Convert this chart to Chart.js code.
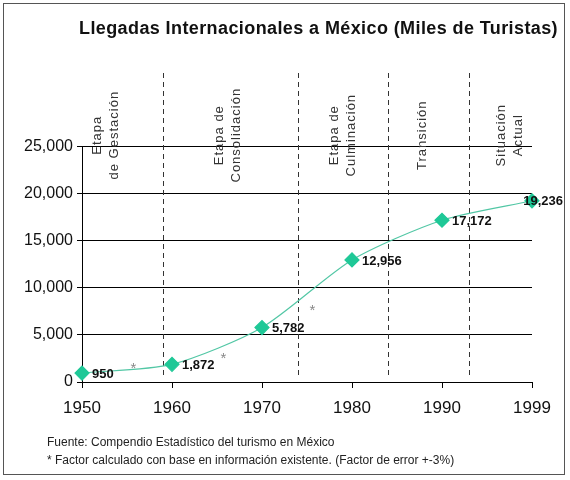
<!DOCTYPE html>
<html>
<head>
<meta charset="utf-8">
<script src="https://cdn.jsdelivr.net/npm/chart.js@4/dist/chart.umd.min.js"></script>
<style>
  html, body { margin: 0; padding: 0; background: #fff; }
  #chart { display: block; }
</style>
</head>
<body>
<canvas id="chart" width="570" height="480"></canvas>
<script>
// Data
const years = ['1950', '1960', '1970', '1980', '1990', '1999'];
const arrivals = [950, 1872, 5782, 12956, 17172, 19236];
const yTicks = [0, 5000, 10000, 15000, 20000, 25000];
const stageNames = [
    ['Etapa', 'de Gestación'],
    ['Etapa de', 'Consolidación'],
    ['Etapa de', 'Culminación'],
    ['Transición'],
    ['Situación', 'Actual']
];
const stageBounds = [0.9, 2.4, 3.4, 4.3];          // category index where a stage ends
const stageCenters = [0.27, 1.62, 2.9, 3.78, 4.76]; // category index of each stage label
const estimateMarks = [[0.57, 1700], [1.57, 2750], [2.56, 7850]];
const titleText = 'Llegadas Internacionales a México (Miles de Turistas)';
const footnotes = [
    'Fuente: Compendio Estadístico del turismo en México',
    '* Factor calculado con base en información existente. (Factor de error +-3%)'
];

const FONT = "'Liberation Sans', Arial, sans-serif";

const decorations = {
    id: 'decorations',
    beforeDraw(chart) {
        const ctx = chart.ctx;
        ctx.save();
        ctx.fillStyle = '#fff';
        ctx.fillRect(0, 0, chart.width, chart.height);
        ctx.restore();
    },
    beforeDatasetsDraw(chart) {
        const ctx = chart.ctx;
        const x = chart.scales.x, y = chart.scales.y;
        const area = chart.chartArea;
        ctx.save();

        // y axis line, only up to the top tick
        ctx.strokeStyle = '#000';
        ctx.lineWidth = 1;
        ctx.beginPath();
        ctx.moveTo(Math.round(area.left) + 0.5, y.getPixelForValue(0));
        ctx.lineTo(Math.round(area.left) + 0.5, y.getPixelForValue(yTicks[yTicks.length - 1]));
        ctx.stroke();

        // stage separators
        ctx.strokeStyle = '#333';
        ctx.setLineDash([5, 4]);
        stageBounds.forEach(b => {
            const px = Math.round(x.getPixelForValue(b)) + 0.5;
            ctx.beginPath();
            ctx.moveTo(px, area.top);
            ctx.lineTo(px, area.bottom - 3);
            ctx.stroke();
        });
        ctx.setLineDash([]);

        // stage labels (vertical)
        ctx.fillStyle = '#333';
        ctx.font = '13px ' + FONT;
        ctx.letterSpacing = '1px';
        ctx.textAlign = 'center';
        ctx.textBaseline = 'middle';
        const cy = y.getPixelForValue(26200);
        stageNames.forEach((lines, i) => {
            const cx = x.getPixelForValue(stageCenters[i]);
            ctx.save();
            ctx.translate(cx, cy);
            ctx.rotate(-Math.PI / 2);
            const lh = 17;
            lines.forEach((t, j) => {
                ctx.fillText(t, 0, (j - (lines.length - 1) / 2) * lh);
            });
            ctx.restore();
        });
        ctx.restore();
    },
    afterDatasetsDraw(chart) {
        const ctx = chart.ctx;
        const x = chart.scales.x, y = chart.scales.y;
        const meta = chart.getDatasetMeta(0);
        ctx.save();

        // value labels
        ctx.font = 'bold 13px ' + FONT;
        ctx.fillStyle = '#111';
        ctx.textAlign = 'left';
        ctx.textBaseline = 'middle';
        arrivals.forEach((v, i) => {
            const pt = meta.data[i];
            const txt = v.toLocaleString('en-US');
            const w = ctx.measureText(txt).width;
            const lx = Math.min(pt.x + 10, chart.width - 7 - w);
            ctx.fillText(txt, lx, pt.y + 1);
        });

        // estimate marks
        ctx.font = '15px ' + FONT;
        ctx.fillStyle = '#888';
        ctx.textAlign = 'center';
        estimateMarks.forEach(([ix, v]) => {
            ctx.fillText('*', x.getPixelForValue(ix), y.getPixelForValue(v) + 3);
        });
        ctx.restore();
    },
    afterDraw(chart) {
        const ctx = chart.ctx;
        ctx.save();
        // title
        ctx.fillStyle = '#111';
        ctx.font = 'bold 18px ' + FONT;
        ctx.letterSpacing = '0.4px';
        ctx.textAlign = 'right';
        ctx.textBaseline = 'middle';
        ctx.fillText(titleText, 558, 29);
        ctx.letterSpacing = '0px';

        // footnotes
        ctx.font = '12px ' + FONT;
        ctx.fillStyle = '#222';
        ctx.textAlign = 'left';
        footnotes.forEach((t, i) => ctx.fillText(t, 47, 443 + i * 18));

        // frame
        ctx.strokeStyle = '#555';
        ctx.lineWidth = 1;
        ctx.strokeRect(3.5, 3.5, 561, 471);
        ctx.restore();
    }
};

new Chart(document.getElementById('chart'), {
    type: 'line',
    data: {
        labels: years,
        datasets: [{
            data: arrivals,
            borderColor: '#52c7a5',
            borderWidth: 1.2,
            tension: 0.25,
            pointStyle: 'rectRot',
            pointRadius: 7,
            pointHoverRadius: 7,
            pointBackgroundColor: '#1fc897',
            pointBorderColor: '#1fc897',
            clip: false
        }]
    },
    options: {
        responsive: false,
        animation: false,
        layout: { padding: { left: 0, right: 38, top: 73, bottom: 0 } },
        plugins: {
            legend: { display: false },
            tooltip: { enabled: false },
            title: { display: false }
        },
        scales: {
            x: {
                type: 'category',
                offset: false,
                grid: { drawOnChartArea: false, drawTicks: true, tickLength: 6, color: '#000' },
                border: { display: true, color: '#000' },
                ticks: { font: { family: FONT, size: 17 }, color: '#111', padding: 10, maxRotation: 0 },
                afterFit(scale) { scale.height = 98; }
            },
            y: {
                min: 0,
                max: 32800,
                afterBuildTicks(scale) { scale.ticks = yTicks.map(v => ({ value: v })); },
                grid: { color: '#000', tickLength: 5, drawTicks: true },
                border: { display: false },
                ticks: {
                    font: { family: FONT, size: 16 },
                    color: '#111',
                    padding: 4,
                    callback: v => v.toLocaleString('en-US')
                },
                afterFit(scale) { scale.width = 82; }
            }
        }
    },
    plugins: [decorations]
});
</script>
</body>
</html>
